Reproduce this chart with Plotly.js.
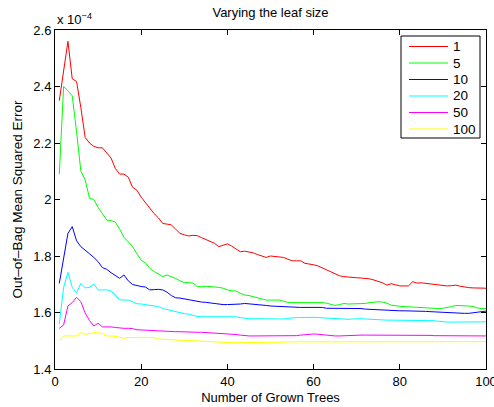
<!DOCTYPE html>
<html>
<head>
<meta charset="utf-8">
<script src="https://cdn.plot.ly/plotly-3.0.1.min.js"></script>
<style>html,body{margin:0;padding:0;background:#fff;}#chart{width:494px;height:407px;}</style>
</head>
<body>
<div id="chart"></div>
<script>
// Number of grown trees
var trees = [];
for (var i = 1; i <= 100; i++) trees.push(i);

// Series labels (minimum leaf size)
var leafSizes = ["1", "5", "10", "20", "50", "100"];
var seriesColors = ["#ff0000", "#00ff00", "#0000ff", "#00ffff", "#ff00ff", "#ffff00"];

// Out-of-bag MSE, in units of 1e-4
var leaf1 = [2.35,2.455,2.56,2.427,2.418,2.325,2.22,2.20,2.188,2.183,
  2.183,2.165,2.147,2.11,2.09,2.09,2.079,2.043,2.033,2.008,
  1.988,1.969,1.95,1.935,1.915,1.913,1.91,1.895,1.88,1.875,
  1.871,1.873,1.872,1.865,1.858,1.853,1.845,1.833,1.838,1.843,
  1.835,1.824,1.815,1.817,1.815,1.811,1.805,1.799,1.795,1.800,
  1.799,1.796,1.795,1.789,1.783,1.783,1.783,1.774,1.772,1.769,
  1.765,1.758,1.750,1.743,1.736,1.730,1.727,1.725,1.724,1.723,
  1.722,1.721,1.719,1.715,1.710,1.705,1.697,1.702,1.698,1.694,
  1.694,1.694,1.709,1.704,1.705,1.703,1.701,1.699,1.697,1.695,
  1.694,1.695,1.697,1.693,1.690,1.688,1.687,1.686,1.686,1.686];
var leaf5 = [2.09,2.40,2.385,2.367,2.24,2.10,2.07,2.005,2.0,1.972,
  1.95,1.927,1.925,1.92,1.895,1.866,1.85,1.833,1.808,1.785,
  1.775,1.756,1.745,1.735,1.727,1.733,1.727,1.72,1.712,1.706,
  1.706,1.704,1.692,1.691,1.693,1.692,1.690,1.689,1.686,1.680,
  1.677,1.676,1.668,1.662,1.660,1.656,1.650,1.646,1.644,1.644,
  1.644,1.644,1.640,1.636,1.635,1.635,1.635,1.635,1.636,1.636,
  1.635,1.635,1.633,1.628,1.625,1.628,1.632,1.630,1.630,1.630,
  1.631,1.632,1.635,1.637,1.638,1.637,1.633,1.626,1.623,1.622,
  1.621,1.620,1.619,1.618,1.618,1.617,1.616,1.615,1.614,1.615,
  1.617,1.621,1.625,1.625,1.624,1.623,1.621,1.616,1.614,1.614];
var leaf10 = [1.703,1.79,1.88,1.904,1.854,1.833,1.822,1.808,1.795,1.78,
  1.759,1.753,1.741,1.73,1.721,1.733,1.712,1.699,1.695,1.692,
  1.690,1.680,1.681,1.682,1.680,1.672,1.660,1.652,1.651,1.648,
  1.646,1.643,1.639,1.637,1.636,1.634,1.631,1.629,1.628,1.628,
  1.628,1.628,1.630,1.632,1.631,1.629,1.628,1.627,1.625,1.623,
  1.622,1.621,1.620,1.619,1.619,1.618,1.618,1.618,1.618,1.617,
  1.618,1.618,1.615,1.615,1.615,1.615,1.615,1.615,1.615,1.615,
  1.614,1.612,1.611,1.610,1.609,1.608,1.607,1.606,1.606,1.606,
  1.606,1.606,1.605,1.605,1.604,1.604,1.603,1.602,1.602,1.601,
  1.600,1.599,1.598,1.597,1.597,1.597,1.599,1.601,1.603,1.605];
var leaf20 = [1.559,1.689,1.742,1.689,1.670,1.703,1.687,1.689,1.701,1.680,
  1.680,1.680,1.676,1.662,1.645,1.644,1.644,1.638,1.631,1.630,
  1.628,1.626,1.623,1.621,1.614,1.610,1.607,1.604,1.599,1.596,
  1.594,1.590,1.586,1.585,1.585,1.585,1.585,1.585,1.585,1.585,
  1.585,1.585,1.582,1.579,1.578,1.578,1.578,1.578,1.578,1.578,
  1.578,1.576,1.577,1.579,1.581,1.582,1.582,1.583,1.583,1.583,
  1.582,1.581,1.581,1.580,1.579,1.578,1.576,1.576,1.577,1.578,
  1.578,1.577,1.576,1.575,1.573,1.573,1.573,1.573,1.573,1.573,
  1.573,1.571,1.571,1.571,1.571,1.571,1.571,1.571,1.569,1.567,
  1.566,1.566,1.566,1.566,1.566,1.566,1.566,1.566,1.566,1.567];
var leaf50 = [1.544,1.556,1.623,1.635,1.654,1.638,1.598,1.572,1.552,1.562,
  1.549,1.550,1.549,1.547,1.545,1.544,1.544,1.543,1.539,1.538,
  1.538,1.538,1.537,1.536,1.534,1.532,1.532,1.532,1.532,1.531,
  1.531,1.531,1.530,1.530,1.529,1.528,1.527,1.526,1.526,1.526,
  1.524,1.522,1.520,1.518,1.517,1.517,1.517,1.517,1.517,1.517,
  1.517,1.517,1.517,1.517,1.517,1.518,1.520,1.522,1.524,1.524,
  1.523,1.521,1.519,1.518,1.517,1.517,1.518,1.519,1.520,1.520,
  1.520,1.520,1.520,1.521,1.521,1.521,1.520,1.520,1.520,1.520,
  1.520,1.520,1.520,1.520,1.519,1.519,1.519,1.518,1.518,1.518,
  1.518,1.517,1.517,1.517,1.517,1.517,1.517,1.517,1.517,1.517];
var leaf100 = [1.500,1.517,1.517,1.517,1.517,1.529,1.523,1.525,1.529,1.528,
  1.526,1.517,1.517,1.516,1.512,1.509,1.511,1.512,1.512,1.512,
  1.512,1.512,1.511,1.506,1.505,1.503,1.503,1.502,1.502,1.501,
  1.501,1.500,1.500,1.499,1.499,1.496,1.495,1.494,1.493,1.493,
  1.493,1.493,1.493,1.493,1.493,1.494,1.494,1.494,1.494,1.495,
  1.495,1.495,1.495,1.496,1.496,1.496,1.497,1.497,1.497,1.497,
  1.497,1.497,1.497,1.497,1.496,1.496,1.496,1.496,1.496,1.496,
  1.496,1.496,1.496,1.496,1.497,1.497,1.497,1.497,1.497,1.497,
  1.497,1.497,1.497,1.497,1.497,1.497,1.497,1.497,1.497,1.497,
  1.497,1.497,1.497,1.497,1.497,1.497,1.497,1.497,1.497,1.497];

var seriesValues = [leaf1, leaf5, leaf10, leaf20, leaf50, leaf100];

var FONT = "Liberation Sans, Arial, Helvetica, sans-serif";

var W = 494, H = 407, ML = 55, MR = 8, MT = 30, MB = 38;
var PW = W - ML - MR, PH = H - MT - MB;
function px2x(px) { return (px - ML) / PW; }
function px2y(py) { return (H - MB - py) / PH; }

var traces = seriesValues.map(function (vals, k) {
  return {
    x: trees, y: vals, type: "scatter", mode: "lines",
    name: leafSizes[k], showlegend: false,
    line: {color: seriesColors[k], width: 1}
  };
});

var axisCommon = {
  showline: true, linecolor: "#000", linewidth: 1, mirror: "ticks",
  ticks: "inside", ticklen: 5, tickwidth: 1, tickcolor: "#000",
  showgrid: false, zeroline: false, ticklabeloverflow: "allow",
  tickfont: {family: FONT, size: 13, color: "#000"}
};

// Custom MATLAB-style legend box
var shapes = [{
  type: "rect", xref: "paper", yref: "paper",
  x0: px2x(401), x1: px2x(480), y0: px2y(138), y1: px2y(36),
  line: {color: "#000", width: 1}, fillcolor: "#fff", layer: "above"
}];
var annotations = [{
  text: "x 10<sup>\u22124</sup>", xref: "paper", yref: "paper",
  x: 0, y: 1, xanchor: "left", yanchor: "bottom", yshift: 1, xshift: 0,
  showarrow: false, font: {family: FONT, size: 13, color: "#000"}
}];
leafSizes.forEach(function (lab, k) {
  var ry = 46.5 + k * 16.5;
  shapes.push({
    type: "line", xref: "paper", yref: "paper",
    x0: px2x(409), x1: px2x(448), y0: px2y(ry), y1: px2y(ry),
    line: {color: seriesColors[k], width: 1}, layer: "above"
  });
  annotations.push({
    text: lab, xref: "paper", yref: "paper",
    x: px2x(451), y: px2y(ry), xanchor: "left", yanchor: "middle",
    showarrow: false, font: {family: FONT, size: 13.5, color: "#000"}
  });
});

var layout = {
  width: W, height: H,
  margin: {l: ML, r: MR, t: MT, b: MB, pad: 0},
  paper_bgcolor: "#fff", plot_bgcolor: "#fff",
  font: {family: FONT, color: "#000"},
  title: {text: "Varying the leaf size", font: {family: FONT, size: 13, color: "#000"},
          x: 0.5, xref: "paper", xanchor: "center", y: 0.97, yref: "container", yanchor: "middle"},
  xaxis: Object.assign({}, axisCommon, {
    range: [0, 100], tick0: 0, dtick: 20,
    title: {text: "Number of Grown Trees", font: {family: FONT, size: 13, color: "#000"}, standoff: 5}
  }),
  yaxis: Object.assign({}, axisCommon, {
    range: [1.4, 2.6], tick0: 1.4, dtick: 0.2,
    title: {text: "Out\u2013of\u2013Bag Mean Squared Error", font: {family: FONT, size: 13.5, color: "#000"}, standoff: 7}
  }),
  showlegend: false,
  shapes: shapes,
  annotations: annotations
};

Plotly.newPlot("chart", traces, layout, {displayModeBar: false, staticPlot: true});
</script>
</body>
</html>
